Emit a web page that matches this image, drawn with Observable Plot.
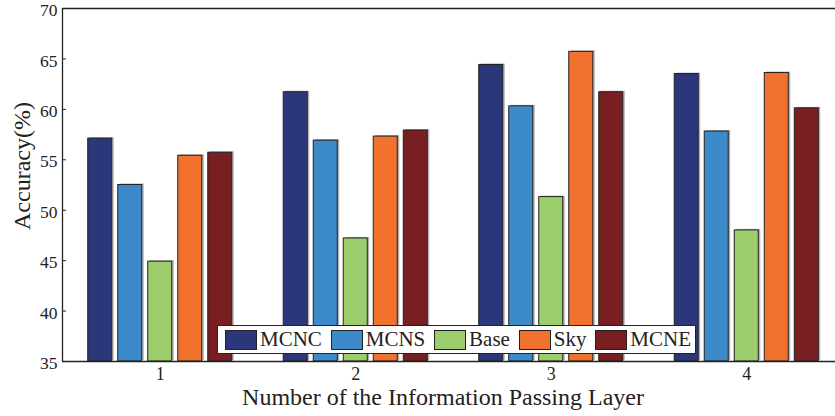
<!DOCTYPE html>
<html><head><meta charset="utf-8">
<script src="https://cdn.jsdelivr.net/npm/d3@7"></script>
<script src="https://cdn.jsdelivr.net/npm/@observablehq/plot@0.6"></script>
<style>
body{margin:0;overflow:hidden;background:#fff;font-family:"Liberation Serif","Times New Roman",serif;color:#222}
#wrap{position:relative;width:835px;height:416px;overflow:hidden}
#wrap svg{position:absolute;left:0;top:0}
.legend{position:absolute;left:217px;top:325px;width:466px;height:27px;border:1px solid #222;background:#fff;display:flex;align-items:center;justify-content:space-between;padding-left:7px;padding-right:4px;box-sizing:content-box}
.legend .it{display:flex;align-items:center}
.legend .sw{width:30px;height:18px;border:1px solid #222;margin-right:3px}
.legend .tx{font-size:21px;line-height:21px}
.ylab{position:absolute;left:22px;top:166px;transform:translate(-50%,-50%) rotate(-90deg);font-size:24px;white-space:nowrap}
.xlab{position:absolute;left:443px;top:383px;transform:translateX(-50%);font-size:24px;white-space:nowrap;line-height:28px}
</style></head><body><div id="wrap"></div>
<script>
const layers = [1, 2, 3, 4];
const series = ["MCNC", "MCNS", "Base", "Sky", "MCNE"];
const colors = ["#2c367a", "#3d8acb", "#9bcd6d", "#f1722f", "#791f22"];
const MCNC = [57.1, 61.7, 64.4, 63.5];
const MCNS = [52.5, 56.9, 60.3, 57.8];
const Base = [44.9, 47.2, 51.3, 48.0];
const Sky  = [55.4, 57.3, 65.7, 63.6];
const MCNE = [55.7, 57.9, 61.7, 60.1];
const yTicks = [35, 40, 45, 50, 55, 60, 65, 70];
const xLabel = "Number of the Information Passing Layer";
const yLabel = "Accuracy(%)";

const values = {MCNC, MCNS, Base, Sky, MCNE};
const pitch = 0.1535, half = 0.0614;
const data = [];
layers.forEach((l, li) => series.forEach((s, si) => {
  const c = l + (si - 2) * pitch;
  data.push({layer: l, series: s, x1: c - half, x2: c + half, value: values[s][li]});
}));

const chart = Plot.plot({
  width: 835, height: 416,
  marginLeft: 62, marginTop: 8, marginBottom: 55, marginRight: 0,
  style: {fontFamily: "Liberation Serif", color: "#222", background: "#fff"},
  x: {type: "linear", domain: [0.5, 4.5], range: [62, 844]},
  y: {domain: [35, 70]},
  color: {domain: series, range: colors},
  marks: [
    Plot.rectY(data, {x1: "x1", x2: "x2", y1: 35, y2: "value", fill: "#8a8a8a", fillOpacity: 0.65, dx: 2, dy: -1}),
    Plot.rectY(data, {x1: "x1", x2: "x2", y1: 35, y2: "value", fill: "series", stroke: "#222", strokeWidth: 1}),
    Plot.ruleY([70, 35], {stroke: "#222", strokeWidth: 1.3}),
    Plot.ruleX([0.5], {stroke: "#222", strokeWidth: 1.3}),
    Plot.axisY(yTicks, {tickSize: -4, tickPadding: 9, fontSize: 17.5, label: null, stroke: "#222", tickFormat: d3.format("d")}),
    Plot.axisX(layers, {tickSize: 0, tickPadding: 6, fontSize: 18, label: null, tickFormat: d3.format("d")})
  ]
});
chart.querySelectorAll("text").forEach(t => {
  t.style.fontFamily = "'Liberation Serif', 'Times New Roman', serif";
});
chart.querySelectorAll("g[aria-label='y-axis tick label']").forEach(g => {
  g.setAttribute("transform", ((g.getAttribute("transform") || "") + " translate(0,2)").trim());
});
const wrap = document.getElementById("wrap");
wrap.appendChild(chart);

const leg = document.createElement("div");
leg.className = "legend";
series.forEach((s, i) => {
  const it = document.createElement("div"); it.className = "it";
  const sw = document.createElement("div"); sw.className = "sw"; sw.style.background = colors[i];
  const tx = document.createElement("span"); tx.className = "tx"; tx.textContent = s;
  it.appendChild(sw); it.appendChild(tx); leg.appendChild(it);
});
wrap.appendChild(leg);
const yl = document.createElement("div"); yl.className = "ylab"; yl.textContent = yLabel; wrap.appendChild(yl);
const xl = document.createElement("div"); xl.className = "xlab"; xl.textContent = xLabel; wrap.appendChild(xl);
</script></body></html>
